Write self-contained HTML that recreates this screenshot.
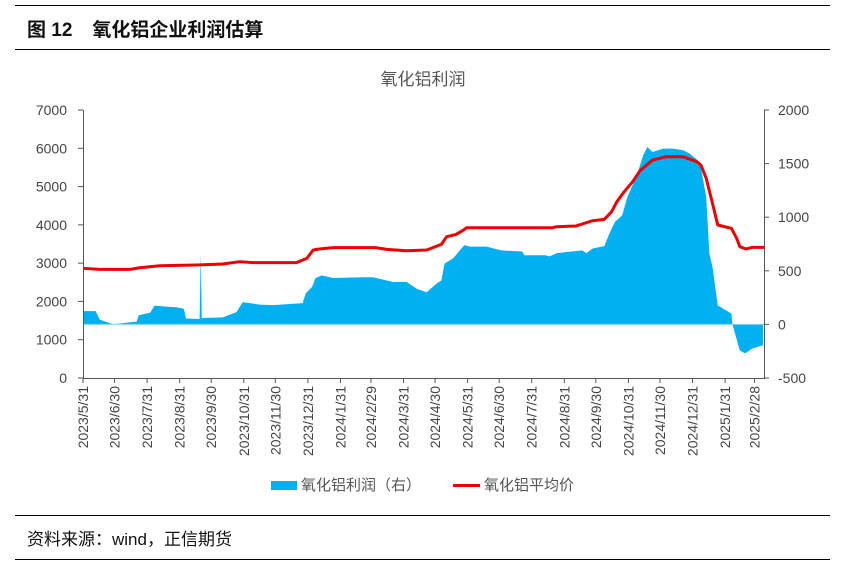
<!DOCTYPE html>
<html><head><meta charset="utf-8"><style>
body{margin:0;background:#fff;}
svg{display:block;font-family:"Liberation Sans","Noto Sans CJK SC",sans-serif;}
</style></head><body>
<svg id="page" width="847" height="565" viewBox="0 0 847 565">
<line x1="15" y1="5.5" x2="830" y2="5.5" stroke="#000"/>
<text x="27" y="36" font-size="19" font-weight="bold" fill="#111">图 12<tspan dx="20">氧化铝企业利润估算</tspan></text>
<line x1="15" y1="49.5" x2="830" y2="49.5" stroke="#000"/>
<text x="423" y="85" font-size="17" fill="#555" text-anchor="middle">氧化铝利润</text>
<g id="chart"></g>
<rect x="271" y="481" width="26" height="9" fill="#00b0f0"/>
<text x="301" y="490" font-size="15" fill="#555">氧化铝利润（右）</text>
<line x1="453" y1="485.5" x2="480" y2="485.5" stroke="#e00" stroke-width="3"/>
<text x="484" y="490" font-size="15" fill="#555">氧化铝平均价</text>
<line x1="15" y1="515.5" x2="830" y2="515.5" stroke="#000"/>
<text x="27" y="545" font-size="17" fill="#111">资料来源：wind，正信期货</text>
<line x1="15" y1="559.5" x2="830" y2="559.5" stroke="#000"/>
</svg>
<script>
// days offset from 2023-05-31
const tickLabels=["2023/5/31","2023/6/30","2023/7/31","2023/8/31","2023/9/30","2023/10/31","2023/11/30","2023/12/31","2024/1/31","2024/2/29","2024/3/31","2024/4/30","2024/5/31","2024/6/30","2024/7/31","2024/8/31","2024/9/30","2024/10/31","2024/11/30","2024/12/31","2025/1/31","2025/2/28"];
const leftTicks=[0,1000,2000,3000,4000,5000,6000,7000];
const rightTicks=[-500,0,500,1000,1500,2000];
const profitDays=[0,3,12,16,29,45,51,53,64,68,81,89,96,98,111,112,113,133,146,152,168,181,197,209,212,218,221,227,238,266,276,295,308,318,327,337,341,344,352,356,360,363,368,384,398,418,420,440,444,451,475,479,485,496,501,506,513,518,527,533,537,542,552,561,571,577,587,593,596,599,604,617,618,625,630,637,647];
const profitVals=[124,124,124,45,0,20,25,85,110,175,165,160,145,55,50,665,60,65,115,208,185,180,190,198,290,350,429,457,433,440,440,395,395,330,300,385,410,567,615,660,708,740,725,725,690,680,645,645,635,665,690,665,708,730,849,955,1017,1188,1390,1577,1655,1608,1640,1640,1625,1595,1514,1188,662,535,177,100,0,-243,-270,-225,-195];
const priceDays=[0,16,45,54,73,108,133,149,162,203,213,219,225,238,279,289,308,327,341,346,355,362,365,447,450,469,485,496,503,508,515,523,530,542,555,571,584,588,593,599,604,617,622,625,631,637,648];
const priceVals=[2865,2838,2838,2880,2933,2950,2977,3038,3012,3012,3125,3343,3370,3404,3404,3360,3325,3343,3491,3691,3750,3865,3925,3925,3950,3970,4108,4143,4344,4605,4866,5127,5415,5693,5780,5780,5650,5563,5215,4562,3996,3910,3648,3430,3370,3413,3413];
const tickDays=[0,30,61,92,122,153,183,214,245,274,305,335,366,396,427,458,488,519,549,580,611,639];
const X0=83,X1=764,YT=110,YB=378,DMAX=648;
const xS=d=>X0+d*(X1-X0)/DMAX;
const yL=v=>YB-(v/7000)*(YB-YT);
const yR=v=>YB-((v+500)/2500)*(YB-YT);
const NS="http://www.w3.org/2000/svg";
const g=document.getElementById('chart');
function mk(t,a){const e=document.createElementNS(NS,t);for(const k in a)e.setAttribute(k,a[k]);g.appendChild(e);return e;}
// profit area
let d=`M${xS(profitDays[0])},${yR(0)}`;
profitDays.forEach((dd,i)=>{d+=`L${xS(dd)},${yR(profitVals[i])}`;});
d+=`L${xS(profitDays[profitDays.length-1])},${yR(0)}Z`;
const area=mk('path',{d:d,fill:'#00b0f0',stroke:'none'});


const zl=mk('line',{x1:X0,x2:X1,y1:yR(0),y2:yR(0),stroke:'#7fd6f7','stroke-width':1});


// price line
const pl=mk('polyline',{points:priceDays.map((dd,i)=>xS(dd)+','+yL(priceVals[i])).join(' '),fill:'none',stroke:'#e00','stroke-width':3,'stroke-linejoin':'round'});


// axes
const la=mk('line',{x1:X0+.5,x2:X0+.5,y1:YT,y2:YB,stroke:'#555'});


const ra=mk('line',{x1:X1+.5,x2:X1+.5,y1:YT,y2:YB,stroke:'#555'});


const xa=mk('line',{x1:X0,x2:X1+1,y1:YB+.5,y2:YB+.5,stroke:'#555'});


leftTicks.forEach(v=>{const y=yL(v);
 const t=mk('line',{x1:X0-5,x2:X0,y1:y,y2:y,stroke:'#555'});
 
 
 const tx=mk('text',{x:67,y:y+5,'font-size':14,fill:'#444','text-anchor':'end'});tx.textContent=v;
 
 });
rightTicks.forEach(v=>{const y=yR(v);
 const t=mk('line',{x1:X1,x2:X1+5,y1:y,y2:y,stroke:'#555'});
 
 
 const tx=mk('text',{x:778,y:y+5,'font-size':14,fill:'#444'});tx.textContent=v;
 
 });
tickDays.forEach((dd,i)=>{const x=xS(dd);
 const t=mk('line',{x1:x,x2:x,y1:YB,y2:YB+5,stroke:'#555'});
 
 
 const tx=mk('text',{x:0,y:0,'font-size':14,fill:'#444','text-anchor':'end',transform:`translate(${x+5},${YB+8}) rotate(-90)`});tx.textContent=tickLabels[i];
 
 });
</script>
</body></html>
